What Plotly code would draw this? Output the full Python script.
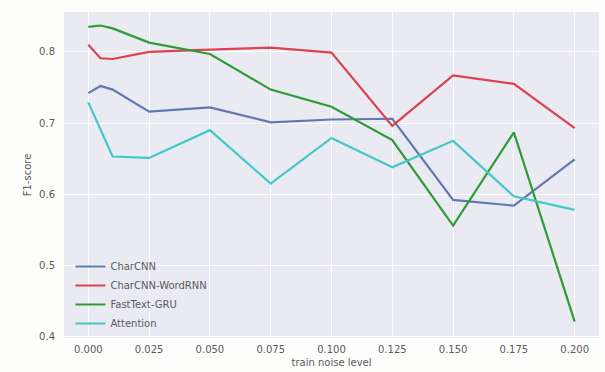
import plotly.graph_objects as go

# Training noise levels (x axis)
noise_levels = [0.0, 0.005, 0.01, 0.025, 0.05, 0.075, 0.1, 0.125, 0.15, 0.175, 0.2]

# F1-scores per model (None where a model has no reading)
charcnn = [0.742, 0.752, 0.747, 0.716, 0.722, 0.701, 0.705, 0.706, 0.592, 0.584, 0.649]
charcnn_wordrnn = [0.810, 0.791, 0.790, 0.800, 0.803, 0.806, 0.799, 0.696, 0.767, 0.755, 0.693]
fasttext_gru = [0.835, 0.837, 0.833, 0.813, 0.797, 0.747, 0.723, 0.676, 0.556, 0.687, 0.421]
attention = [0.729, None, 0.653, 0.651, 0.690, 0.615, 0.679, 0.638, 0.675, 0.597, 0.578]

series_names = ["CharCNN", "CharCNN-WordRNN", "FastText-GRU", "Attention"]
series_values = [charcnn, charcnn_wordrnn, fasttext_gru, attention]
series_colors = ["#6179B3", "#DB434F", "#2E9B37", "#43C8C8"]

x_ticks = [0.0, 0.025, 0.05, 0.075, 0.1, 0.125, 0.15, 0.175, 0.2]
x_tick_labels = ["0.000", "0.025", "0.050", "0.075", "0.100", "0.125", "0.150", "0.175", "0.200"]
y_ticks = [0.4, 0.5, 0.6, 0.7, 0.8]
y_tick_labels = ["0.4", "0.5", "0.6", "0.7", "0.8"]

fig = go.Figure()
for name, vals, color in zip(series_names, series_values, series_colors):
    xs = [x for x, v in zip(noise_levels, vals) if v is not None]
    ys = [v for v in vals if v is not None]
    fig.add_trace(go.Scatter(
        x=xs, y=ys, mode="lines", name=name,
        line=dict(color=color, width=2.2),
    ))

text_color = "#5A5A5A"

fig.update_layout(
    width=605, height=372,
    margin=dict(l=64, r=6, t=12, b=34),
    paper_bgcolor="#FDFDFB",
    plot_bgcolor="#EAEAF2",
    font=dict(family="DejaVu Sans, Arial, sans-serif", size=10, color=text_color),
    showlegend=True,
    legend=dict(
        x=0.012, y=0.0, xanchor="left", yanchor="bottom",
        bgcolor="rgba(0,0,0,0)", borderwidth=0,
        font=dict(size=10, color=text_color),
        tracegroupgap=0, itemwidth=30,
    ),
    xaxis=dict(
        range=[-0.01, 0.21],
        tickvals=x_ticks, ticktext=x_tick_labels,
        showgrid=True, gridcolor="#FFFFFF", gridwidth=1,
        zeroline=False, showline=False, ticks="",
        ticklabelstandoff=4,
        title=dict(text="train noise level", font=dict(size=10, color=text_color), standoff=4),
    ),
    yaxis=dict(
        range=[0.398, 0.856],
        tickvals=y_ticks, ticktext=y_tick_labels,
        showgrid=True, gridcolor="#FFFFFF", gridwidth=1,
        zeroline=False, showline=False, ticks="",
        ticklabelstandoff=8,
        title=dict(text="F1-score", font=dict(size=10, color=text_color), standoff=5),
    ),
)

fig.write_html("out.html")
